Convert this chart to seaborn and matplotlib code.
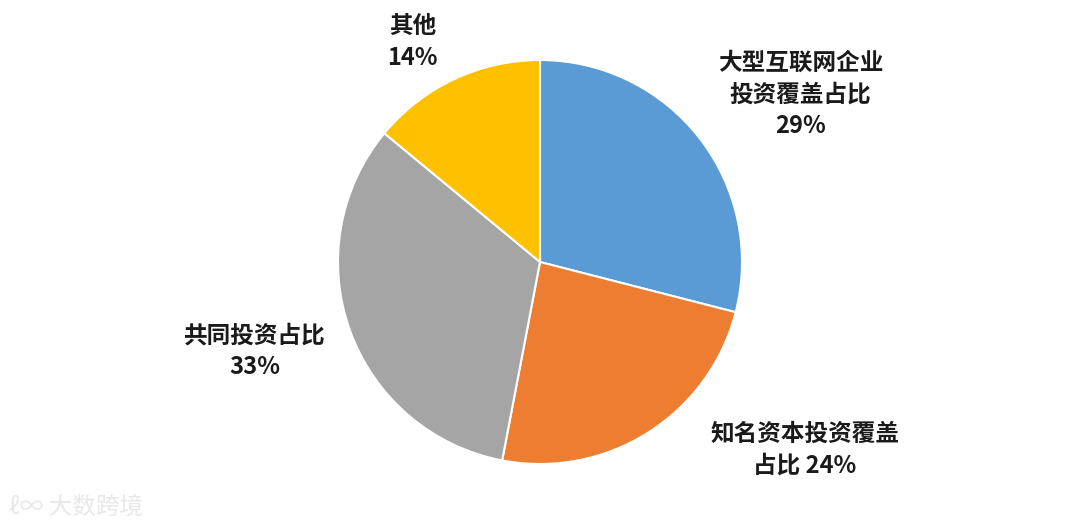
import matplotlib
matplotlib.use("Agg")
import matplotlib.pyplot as plt
import seaborn as sns

# data
labels = ["大型互联网企业\n投资覆盖占比", "知名资本投资覆盖\n占比", "共同投资占比", "其他"]
shares = [29, 24, 33, 14]
colors = ["#5B9BD5", "#ED7D31", "#A5A5A5", "#FFC000"]

sns.set_theme(style="white")
plt.rcParams["font.family"] = ["Noto Sans CJK SC", "DejaVu Sans"]

fig = plt.figure(figsize=(10.8, 5.27), dpi=100)
r_px = 202
ax = fig.add_axes([(540 - r_px) / 1080, (527 - 262 - r_px) / 527, 2 * r_px / 1080, 2 * r_px / 527])

wedges, _ = ax.pie(shares, colors=sns.color_palette(colors), startangle=90, counterclock=False,
                   wedgeprops=dict(edgecolor="white", linewidth=1.5))
ax.set_xlim(-1, 1)
ax.set_ylim(-1, 1)
ax.set_aspect("equal")
ax.axis("off")

# label text positions (data units, pie radius = 1)
label_pos = [(1.29, 0.83), (1.31, -0.93), (-1.41, -0.44), (-0.63, 1.09)]
label_text = [
    f"{labels[0]}\n{shares[0]}%",
    f"{labels[1]} {shares[1]}%",
    f"{labels[2]}\n{shares[2]}%",
    f"{labels[3]}\n{shares[3]}%",
]
for (x, y), t in zip(label_pos, label_text):
    ax.text(x, y, t, ha="center", va="center", fontsize=17, fontweight="bold",
            color="#1a1a1a", linespacing=1.4, clip_on=False)

# watermark
fig.text(0.008, 0.038, "ℓ∞ 大数跨境", fontsize=17, color="#e8e8e8", ha="left", va="center")

fig.savefig("out.png", dpi=100, facecolor="white")
